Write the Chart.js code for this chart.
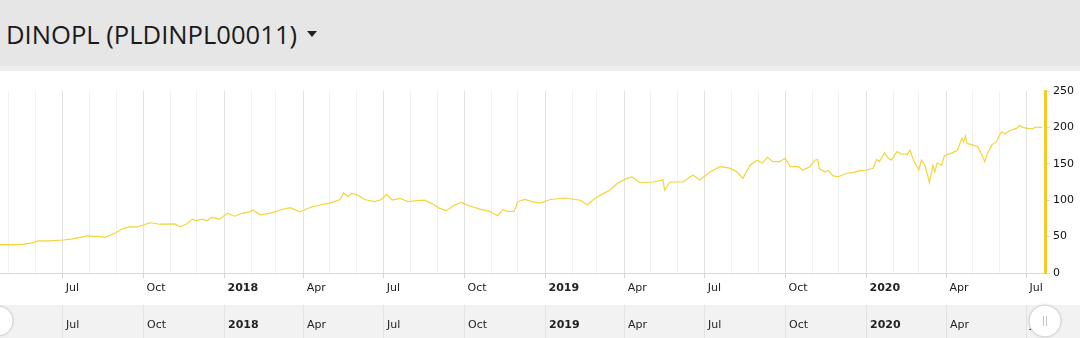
<!DOCTYPE html>
<html><head><meta charset="utf-8">
<script src="https://cdn.jsdelivr.net/npm/chart.js@4.4.1/dist/chart.umd.min.js"></script>
<style>
html,body{margin:0;padding:0;background:#fff;width:1080px;height:338px;overflow:hidden}
#hdr{position:absolute;left:0;top:0;width:1080px;height:66px;background:#e6e6e6;border-bottom:5px solid #eeeeee}
#title{position:absolute;left:6px;top:18px;font-family:'Open Sans',sans-serif;font-size:25.6px;line-height:34px;color:#1a1a1a;white-space:nowrap}
#caret{display:inline-block;width:0;height:0;border-left:5px solid transparent;border-right:5px solid transparent;border-top:6px solid #222;vertical-align:middle;margin-left:3px;position:relative;top:-3px}
#wrap{position:absolute;left:0;top:71px;width:1080px;height:267px}
</style></head><body>
<div id="hdr"><div id="title">DINOPL (PLDINPL00011) <span id="caret"></span></div></div>
<div id="wrap"><canvas id="c" width="1080" height="267"></canvas></div>
<script>
// ---- data ----
const dates = [
'2017-04-21','2017-05-16','2017-05-29','2017-06-03','2017-06-17','2017-07-02','2017-07-13','2017-07-30','2017-08-13','2017-08-19',
'2017-08-30','2017-09-08','2017-09-16','2017-09-24','2017-10-01','2017-10-09','2017-10-20','2017-11-06','2017-11-12','2017-11-19',
'2017-11-26','2017-12-01','2017-12-07','2017-12-13','2017-12-18','2017-12-27','2018-01-05','2018-01-13','2018-01-22','2018-01-30',
'2018-02-03','2018-02-11','2018-02-22','2018-03-06','2018-03-17','2018-03-28','2018-04-09','2018-04-20','2018-04-30','2018-05-13',
'2018-05-17','2018-05-22','2018-05-26','2018-06-02','2018-06-10','2018-06-21','2018-06-29','2018-07-05','2018-07-11','2018-07-20',
'2018-07-29','2018-08-09','2018-08-17','2018-08-25','2018-09-03','2018-09-11','2018-09-20','2018-09-28','2018-10-05','2018-10-13',
'2018-10-19','2018-10-30','2018-11-08','2018-11-14','2018-11-20','2018-11-27','2018-12-01','2018-12-09','2018-12-17','2018-12-26',
'2019-01-07','2019-01-24','2019-02-10','2019-02-18','2019-02-24','2019-03-05','2019-03-16','2019-03-24','2019-04-04','2019-04-10',
'2019-04-19','2019-05-04','2019-05-15','2019-05-17','2019-05-23','2019-06-07','2019-06-18','2019-06-26','2019-07-08','2019-07-19',
'2019-07-30','2019-08-07','2019-08-14','2019-08-22','2019-08-30','2019-09-05','2019-09-11','2019-09-17','2019-09-25','2019-10-01',
'2019-10-07','2019-10-16','2019-10-21','2019-10-29','2019-11-04','2019-11-07','2019-11-09','2019-11-15','2019-11-19','2019-11-24',
'2019-11-30','2019-12-10','2019-12-17','2019-12-25','2020-01-02','2020-01-09','2020-01-13','2020-01-16','2020-01-22','2020-01-26',
'2020-01-30','2020-02-05','2020-02-10','2020-02-17','2020-02-20','2020-02-23','2020-02-27','2020-03-01','2020-03-04','2020-03-08',
'2020-03-11','2020-03-13','2020-03-17','2020-03-19','2020-03-22','2020-03-27','2020-03-30','2020-04-03','2020-04-08','2020-04-14',
'2020-04-19','2020-04-21','2020-04-23','2020-04-25','2020-05-01','2020-05-07','2020-05-11','2020-05-15','2020-05-18','2020-05-23',
'2020-05-28','2020-06-03','2020-06-07','2020-06-12','2020-06-20','2020-06-24','2020-06-27','2020-07-03','2020-07-08','2020-07-12',
'2020-07-19'
];
const prices = [
39,39,41.6,44,44,45.3,47,51,50,49,
54.5,61,63.6,63,66,69,67,67.5,63.6,67,
73.7,72,74,72,76.5,74,82,78,82,84,
86.5,80,82,86.5,89.7,84,90,93.4,95.7,101,
110,105,109.5,107,101,98,101,108,100,102.6,
98,99.6,100,95.7,88.8,85.6,93.4,97,93,90,
87.8,84.7,78.7,87,84.7,84.7,98,101,98,96,
101,103,100,93.4,100,107,114,123,130,132,
124,125,128,114,125,125,134.6,127.7,139,146,
144,139,130,148,155,151,159,153,153,157.5,
146,146,141.5,146,155,156,143,139,141,133.7,
132,137,138,140.5,141.5,143.8,156,153,165,158,
155,166.6,163.6,163,169,158,148,141.5,155,148,
134.6,124,148,139,151,148,160.7,163,165,169,
185,180,188,178,176,173.5,164,153,164,176,
180,194,191,195.5,198.7,203,200,198.7,198,200.5,
200
];
const yTickValues = [0, 50, 100, 150, 200, 250];
const quarterLabels = {3: 'Apr', 6: 'Jul', 9: 'Oct'}; // January ticks show the year
const tickMonths = []; // first of each month shown on the axis
for (let y = 2017; y <= 2020; y++) for (let m = 0; m < 12; m++) {
  if ((y === 2017 && m < 4) || (y === 2020 && m > 6)) continue;
  tickMonths.push([y, m]);
}

const DAY = 86400000;
const toDay = s => { const [y, m, d] = s.split('-').map(Number); return Date.UTC(y, m - 1, d) / DAY; };
const base = toDay('2018-01-01');
const xMin = base - 254.7, xMax = base + 933.5;
const tickValues = tickMonths.map(([y, m]) => Date.UTC(y, m, 1) / DAY);
function labelFor(v) {
  const dt = new Date(v * DAY); const m = dt.getUTCMonth();
  if (m === 0) return String(dt.getUTCFullYear());
  return quarterLabels[m] || '';
}
const isYear = v => new Date(v * DAY).getUTCMonth() === 0;
const isQuarter = v => new Date(v * DAY).getUTCMonth() % 3 === 0;

const FONT = 'DejaVu Sans';
const navPlugin = {
  id: 'nav',
  afterDraw(chart) {
    const c = chart.ctx, xs = chart.scales.x;
    const top = chart.height - 33, h = 33;
    c.save();
    c.fillStyle = '#f2f2f2';
    c.fillRect(0, top, chart.width, h);
    c.textBaseline = 'middle';
    c.textAlign = 'left';
    xs.ticks.forEach(t => {
      const lbl = labelFor(t.value);
      if (!lbl) return;
      const px = Math.round(xs.getPixelForValue(t.value)) + 0.5;
      c.strokeStyle = '#e3e3e3'; c.lineWidth = 1;
      c.beginPath(); c.moveTo(px, top); c.lineTo(px, top + h); c.stroke();
      c.fillStyle = '#222';
      c.font = (isYear(t.value) ? 'bold ' : '') + '11px "' + FONT + '"';
      c.fillText(lbl, px + 3.5, top + 20);
    });
    const handle = (cx, cy, r) => {
      c.beginPath(); c.arc(cx, cy, r, 0, Math.PI * 2);
      c.fillStyle = '#ffffff'; c.shadowColor = 'rgba(0,0,0,0.15)'; c.shadowBlur = 3;
      c.fill(); c.shadowBlur = 0;
      c.strokeStyle = '#d4d4d4'; c.lineWidth = 1; c.stroke();
      c.strokeStyle = '#c4c4c4';
      c.beginPath(); c.moveTo(cx - 1.5, cy - 5); c.lineTo(cx - 1.5, cy + 5);
      c.moveTo(cx + 1.5, cy - 5); c.lineTo(cx + 1.5, cy + 5); c.stroke();
    };
    handle(-2, top + 16, 15);
    handle(chart.chartArea.right, top + 16, 16);
    c.restore();
  }
};

new Chart(document.getElementById('c'), {
  type: 'line',
  data: { datasets: [{
    data: dates.map((d, i) => ({x: toDay(d), y: prices[i]})),
    borderColor: '#f5d43a', borderWidth: 1.2, pointRadius: 0, tension: 0, fill: false
  }]},
  options: {
    responsive: false, animation: false, devicePixelRatio: 1,
    layout: { padding: { top: 20, bottom: 33, left: 0, right: 0 } },
    plugins: { legend: { display: false }, tooltip: { enabled: false } },
    scales: {
      x: {
        type: 'linear', min: xMin, max: xMax,
        afterBuildTicks: s => { s.ticks = tickValues.map(v => ({value: v})); },
        afterFit: s => { s.height = 32; },
        ticks: {
          autoSkip: false, maxRotation: 0, minRotation: 0, align: 'start', labelOffset: 3.5, padding: 4,
          color: '#222',
          font: ctx => ({ family: FONT, size: 11, weight: (ctx.tick && isYear(ctx.tick.value)) ? 'bold' : 'normal' }),
          callback: v => labelFor(v)
        },
        grid: {
          color: ctx => (ctx.tick && isQuarter(ctx.tick.value)) ? '#e2e2e2' : '#f0f0f0',
          tickColor: ctx => (ctx.tick && isQuarter(ctx.tick.value)) ? '#d6d6d6' : 'rgba(0,0,0,0)',
          tickLength: 5, drawTicks: true
        },
        border: { color: '#d8d8d8', width: 1 }
      },
      y: {
        position: 'right', min: 0, max: 250,
        afterBuildTicks: s => { s.ticks = yTickValues.map(v => ({value: v})); },
        afterFit: s => { s.width = 35; },
        ticks: { color: '#111', font: { family: FONT, size: 11 }, padding: 3 },
        grid: { drawOnChartArea: false, drawTicks: true, tickLength: 5, tickColor: '#dcdcdc' },
        border: { color: '#f3cb22', width: 3 }
      }
    }
  },
  plugins: [navPlugin]
});
</script>
</body></html>
